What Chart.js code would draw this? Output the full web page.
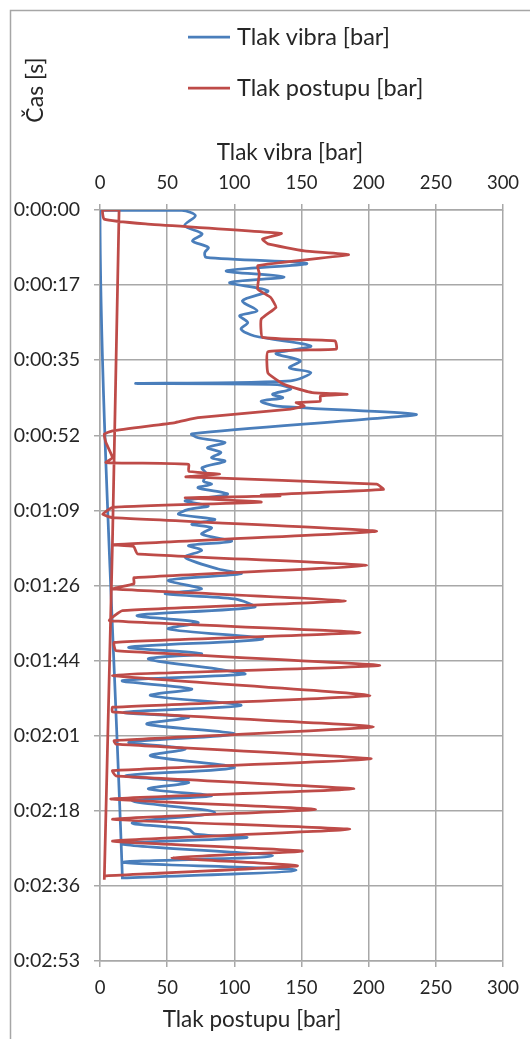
<!DOCTYPE html>
<html>
<head>
<meta charset="utf-8">
<script src="https://cdn.jsdelivr.net/npm/chart.js@4/dist/chart.umd.min.js"></script>
<style>
  html, body { margin: 0; padding: 0; background: #fff; }
  #wrap { position: relative; width: 530px; height: 1039px; }
</style>
</head>
<body>
<div id="wrap"><canvas id="chart"></canvas></div>
<script>
// time axis, seconds (Excel step 0.0002 day = 17.28 s)
const timeTicks = [0, 17.28, 34.56, 51.84, 69.12, 86.4, 103.68, 120.96, 138.24, 155.52, 172.8];
const timeLabels = ['0:00:00', '0:00:17', '0:00:35', '0:00:52', '0:01:09', '0:01:26',
                    '0:01:44', '0:02:01', '0:02:18', '0:02:36', '0:02:53'];

// Tlak vibra [bar] vs time [s]
const vibraTime = [154.0, 0, 0.1, 1.3, 3.6, 5.5, 7.1, 8.6, 9.8, 10.9, 12.3, 14, 15.4, 16.7, 18.6, 20.9,
  23.2, 24.3, 25.9, 27.4, 29, 31.3, 33, 34.7, 36.3, 37.4, 39.3, 39.9, 40.2, 41.2, 42.4, 43.2, 44,
  45.1, 47, 48.1, 51.5, 52.4, 53.5, 54.7, 55.8, 57, 57.8, 59.3, 60.8, 62.4, 63.1, 63.9, 65.4, 66.9,
  68.1, 68.9, 70, 71.2, 72.3, 73.1, 74.6, 76.2, 77.2, 78.3, 79.9, 82.6, 83.7, 85.2, 87.2, 88.3,
  89.5, 91.4, 93.3, 94.9, 96.4, 98.7, 100.6, 102.1, 103.3, 105.6, 106.8, 108.3, 110.2, 111.7,
  114.0, 115.6, 116.7, 118.3, 120.6, 122.5, 124, 125.6, 128.3, 130.2, 131.7, 133.2, 134.8, 136,
  138.6, 141, 142.5, 143.6, 144.4, 145.9, 148.6, 150.1, 151.9, 153.7];
const vibraBar = [16.7, 0, 61, 71, 63, 76, 68.8, 80.6, 78, 79, 154, 94, 137, 96.5, 125, 106,
  117, 104, 110, 105, 115, 157, 131, 149, 141, 157, 142, 26.5, 132, 142, 128.5, 136, 120,
  132, 235, 198.5, 68.3, 73, 93, 80, 90, 83, 93, 76, 79.5, 77, 83, 73, 95, 63.4,
  80.6, 66, 58.5, 85.5, 68.3, 83, 75.7, 98, 66, 75.7, 63.4, 88, 105, 51, 75.7, 48.6,
  100, 115, 27.8, 73, 51, 121, 21.6, 75.7, 36, 86.7, 107.6, 16.7, 68.3, 37.6,
  105, 18, 66, 35, 100, 21.6, 63.4, 37.6, 100, 19.2, 66, 36, 83, 24,
  85.5, 24, 66, 70.8, 109, 16.7, 128.5, 16.7, 146, 16.7];

// Tlak postupu [bar] vs time [s]
const postupTime = [154.1, 0, 0, 2.1, 3.2, 5.4, 6.7, 7.8, 9.4, 10.3, 12.8, 14.7, 18.2, 20.1, 22.4,
  25.1, 29.3, 30.1, 32, 32.6, 37.5, 39.7, 40.4, 42, 42.4, 42.8, 44, 44.3, 45.1, 45.8, 47.8, 48.9,
  50.8, 51.6, 53.5, 57, 58.1, 58.5, 60.1, 60.8, 61.4, 63.1, 64.3, 65.6, 65.8, 66.2, 67.2, 68.4,
  70.0, 70.8, 73.9, 77, 77.4, 79.1, 81.8, 84.6, 86, 87.2, 89.9, 92.2, 94.5, 97.2, 99.5, 101.4,
  104.8, 107.1, 111.7, 114.4, 115.5, 118.9, 122.1, 122.9, 126.3, 129, 130.2, 133.2, 135.5, 137.9,
  140.2, 142.5, 145.2, 147.5, 149, 150.9, 153.2];
const postupBar = [3.2, 14.2, 2, 3, 34, 135, 121, 125, 152, 185, 117.5, 118.6, 117.4, 127, 131,
  120, 121, 175, 176, 125, 125, 134.6, 139.5, 158, 184, 164, 164, 146, 152, 142, 73, 56,
  9.3, 3.2, 4.4, 9.3, 4.4, 66, 66, 89, 64, 206, 211, 120, 134, 63.4, 120, 9.3,
  2, 9.3, 206, 9.3, 25, 27.8, 198.5, 25.3, 25.3, 9.3, 182.6, 16.7, 7, 193.6, 10.5, 11.8,
  208.3, 9.3, 201, 9.3, 9.3, 203.5, 10.5, 11.8, 202, 9.3, 11.8, 189, 8, 160.5,
  9.3, 186, 9.3, 150.6, 53.6, 147, 3.2];

const blue = '#4a7ebb';
const red = '#be4b48';
const gridColor = '#a8a8a8';
const textColor = '#262626';
const fontName = 'Lato';

function points(bar, time) {
  return bar.map((b, i) => ({ x: b, y: time[i] }));
}

// frame, legend and titles as Excel places them
const decor = {
  id: 'decor',
  beforeDraw(c) {
    const ctx = c.ctx;
    ctx.save();
    ctx.fillStyle = '#fff';
    ctx.fillRect(0, 0, c.width, c.height);
    ctx.strokeStyle = '#a6a6a6';
    ctx.lineWidth = 1.5;
    ctx.beginPath();
    ctx.moveTo(10.5, c.height);
    ctx.lineTo(10.5, 10.5);
    ctx.lineTo(c.width, 10.5);
    ctx.stroke();
    ctx.restore();
  },
  afterDraw(c) {
    const ctx = c.ctx;
    const ca = c.chartArea;
    ctx.save();
    ctx.fillStyle = textColor;
    ctx.textBaseline = 'middle';

    // legend
    const lx = ca.left + 88;
    const rows = [['Tlak vibra [bar]', blue, 37], ['Tlak postupu [bar]', red, 88]];
    ctx.font = '23.5px ' + fontName;
    ctx.lineWidth = 2.75;
    rows.forEach(([label, color, y]) => {
      ctx.strokeStyle = color;
      ctx.beginPath();
      ctx.moveTo(lx, y);
      ctx.lineTo(lx + 42, y);
      ctx.stroke();
      ctx.textAlign = 'left';
      ctx.fillText(label, lx + 49, y);
    });

    // axis titles
    ctx.font = '22.5px ' + fontName;
    ctx.textAlign = 'center';
    ctx.fillText('Tlak vibra [bar]', ca.left + 190, ca.top - 57);
    ctx.fillText('Tlak postupu [bar]', ca.left + 152, ca.bottom + 59);

    ctx.font = '23px ' + fontName;
    ctx.translate(36, 90);
    ctx.rotate(-Math.PI / 2);
    ctx.fillText('Čas [s]', 0, 0);
    ctx.restore();
  }
};

const barAxis = (position, onChart) => ({
  type: 'linear',
  position: position,
  min: 0,
  max: 300,
  ticks: { stepSize: 50, color: textColor, font: { family: fontName, size: 18.5 }, padding: 10 },
  grid: { color: gridColor, lineWidth: 1.5, tickLength: 6, drawOnChartArea: onChart },
  border: { color: gridColor, width: 1.5 },
  title: { display: false }
});

const xBottom = barAxis('bottom', true);
xBottom.afterFit = s => { s.height = 78; };
const xTop = barAxis('top', false);
xTop.afterFit = s => { s.height = 210; };

new Chart(document.getElementById('chart'), {
  type: 'scatter',
  data: {
    datasets: [
      {
        label: 'Tlak vibra [bar]',
        data: points(vibraBar, vibraTime),
        xAxisID: 'x2',
        yAxisID: 'y',
        showLine: true,
        borderColor: blue,
        borderWidth: 2.75,
        pointRadius: 0,
        tension: 0.3,
        order: 1
      },
      {
        label: 'Tlak postupu [bar]',
        data: points(postupBar, postupTime),
        xAxisID: 'x',
        yAxisID: 'y',
        showLine: true,
        borderColor: red,
        borderWidth: 2.75,
        pointRadius: 0,
        tension: 0.12,
        order: 0
      }
    ]
  },
  options: {
    responsive: true,
    maintainAspectRatio: false,
    animation: false,
    layout: { padding: { left: 0, top: 0, right: 27, bottom: 0 } },
    plugins: {
      legend: { display: false },
      tooltip: { enabled: false }
    },
    scales: {
      x: xBottom,
      x2: xTop,
      y: {
        type: 'linear',
        position: 'left',
        reverse: true,
        min: 0,
        max: 172.8,
        afterBuildTicks: s => { s.ticks = timeTicks.map(v => ({ value: v })); },
        afterFit: s => { s.width = 100; },
        ticks: {
          color: textColor,
          font: { family: fontName, size: 19.5 },
          padding: 14,
          callback: (v, i) => timeLabels[i]
        },
        grid: { color: gridColor, lineWidth: 1.5, tickLength: 6 },
        border: { color: gridColor, width: 1.5 }
      }
    }
  },
  plugins: [decor]
});
</script>
</body>
</html>
